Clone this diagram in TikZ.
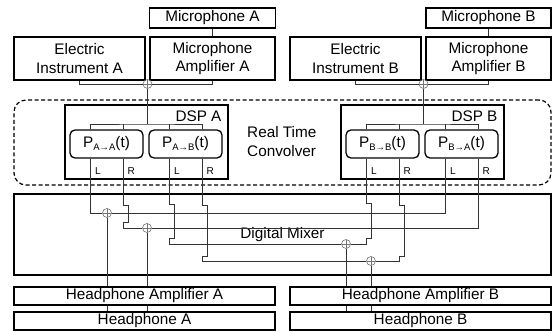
\documentclass[tikz,border=0pt]{standalone}
\usepackage{fontspec}
\setmainfont{Liberation Sans}
\usetikzlibrary{calc}
\newcommand\fsA{\fontsize{15.3}{18.5}\selectfont}
\newcommand\fsS{\fontsize{10}{12}\selectfont}
\newcommand\sbs[1]{\raisebox{-3pt}{\fontsize{9.5}{10}\selectfont #1}}
\begin{document}
\begin{tikzpicture}[x=1pt,y=-1pt,
  box/.style={draw, line width=1.3pt, align=center, inner sep=0pt, font=\fsA},
  pbox/.style={box, rounded corners=5pt},
  wire/.style={line width=0.65pt, draw=black!80},
  lbl/.style={inner sep=0pt, font=\fsS},
  sum/.style={circle, draw=black!55, line width=0.6pt, minimum size=9pt, inner sep=0pt,
    path picture={\draw[black!55, line width=0.6pt]
      (path picture bounding box.north) -- (path picture bounding box.south)
      (path picture bounding box.west) -- (path picture bounding box.east);}}]
\useasboundingbox (0,0) rectangle (554,331);

% top boxes
\node[box, minimum width=126pt, minimum height=20pt] (micA) at (212.5,18) {Microphone A};
\node[box, minimum width=131pt, minimum height=43pt] (eiA) at (79.5,58.5) {Electric\\Instrument A};
\node[box, minimum width=125pt, minimum height=43pt] (ampA) at (212.5,58.5) {Microphone\\Amplifier A};
\node[box, minimum width=125pt, minimum height=20pt] (micB) at (488.5,18) {Microphone B};
\node[box, minimum width=131pt, minimum height=43pt] (eiB) at (355.5,58.5) {Electric\\Instrument B};
\node[box, minimum width=125pt, minimum height=43pt] (ampB) at (488.5,58.5) {Microphone\\Amplifier B};

% convolver
\node[draw, line width=1.2pt, dashed, dash pattern=on 4pt off 2.5pt, rounded corners=12pt,
      minimum width=537pt, minimum height=85pt, inner sep=0pt] (rtc) at (282.5,142.5) {};
\node[inner sep=0pt, font=\fsA, align=left, anchor=west] (rtclbl) at (247,141.5) {Real Time\\Convolver};

\node[box, minimum width=163pt, minimum height=74pt] (dspA) at (146.5,142) {};
\node[box, minimum width=163pt, minimum height=74pt] (dspB) at (422.5,142) {};
\node[inner sep=0pt, font=\fsA, anchor=north east] (dspAl) at ([xshift=-7pt,yshift=-6pt]dspA.north east) {DSP A};
\node[inner sep=0pt, font=\fsA, anchor=north east] (dspBl) at ([xshift=-7pt,yshift=-6pt]dspB.north east) {DSP B};

\node[pbox, minimum width=73pt, minimum height=28pt] (pAA) at (106.5,144) {P\sbs{A→A}(t)};
\node[pbox, minimum width=73pt, minimum height=28pt] (pAB) at (185.5,144) {P\sbs{A→B}(t)};
\node[pbox, minimum width=73pt, minimum height=28pt] (pBB) at (382.5,144) {P\sbs{B→B}(t)};
\node[pbox, minimum width=73pt, minimum height=28pt] (pBA) at (461.5,144) {P\sbs{B→A}(t)};

\foreach \p in {pAA,pAB,pBB,pBA}{
  \node[lbl, anchor=west] (\p L) at ([xshift=-11.5pt,yshift=-12pt]\p.south) {L};
  \node[lbl, anchor=west] (\p R) at ([xshift=21pt,yshift=-12pt]\p.south) {R};
}

% sums at top
\node[sum] (sA) at (147.5,84) {};
\node[sum] (sB) at (423.5,84) {};
\coordinate (dA) at (147.5,124);
\coordinate (dB) at (423.5,124);

\draw[wire] (micA) -- (ampA);
\draw[wire] (micB) -- (ampB);
\draw[wire] (eiA.south) |- (sA);
\draw[wire] (ampA.south) |- (sA);
\draw[wire] (eiB.south) |- (sB);
\draw[wire] (ampB.south) |- (sB);
\draw[wire] (sA) -- (dA);
\draw[wire] (sB) -- (dB);
\draw[wire] ([xshift=-16.5pt]pAA.north) |- (dA) -| ([xshift=16.5pt]pAB.north);
\draw[wire] ([xshift=16.5pt]pAA.north) -- ([xshift=16.5pt]pAA.north |- dA);
\draw[wire] ([xshift=-16.5pt]pAB.north) -- ([xshift=-16.5pt]pAB.north |- dA);
\draw[wire] ([xshift=-16.5pt]pBB.north) |- (dB) -| ([xshift=16.5pt]pBA.north);
\draw[wire] ([xshift=16.5pt]pBB.north) -- ([xshift=16.5pt]pBB.north |- dB);
\draw[wire] ([xshift=-16.5pt]pBA.north) -- ([xshift=-16.5pt]pBA.north |- dB);

% mixer
\node[box, minimum width=537pt, minimum height=81pt] (mix) at (282.5,234.5) {};
\node[inner sep=0pt, font=\fsA] (mixlbl) at (282.5,235) {Digital Mixer};

\node[sum] (sAL) at (107,213) {};
\node[sum] (sAR) at (147,228) {};
\node[sum] (sBL) at (346,244) {};
\node[sum] (sBR) at (371,261) {};

\draw[wire] ([xshift=-16.5pt]pAA.south) |- (sAL);
\draw[wire] ([xshift=16.5pt]pAA.south) -- ++(0,47) -- ++(5,0) -- ++(0,17) -- ++(-5,0) |- (sAR);
\draw[wire] ([xshift=-16.5pt]pAB.south) -- ++(0,46) -- ++(5,0) -- ++(0,34) -- ++(-5,0) |- (sBL);
\draw[wire] ([xshift=16.5pt]pAB.south) -- ++(0,47) -- ++(5,0) -- ++(0,51) -- ++(-5,0) |- (sBR);
\draw[wire] ([xshift=-16.5pt]pBB.south) -- ++(0,45) -- ++(5,0) -- ++(0,35) -- ++(-5,0) |- (sBL);
\draw[wire] ([xshift=16.5pt]pBB.south) -- ++(0,47) -- ++(5,0) -- ++(0,51) -- ++(-5,0) |- (sBR);
\draw[wire] (sAL) -| ([xshift=-16.5pt]pBA.south);
\draw[wire] (sAR) -| ([xshift=16.5pt]pBA.south);

% headphones
\node[box, minimum width=261pt, minimum height=18pt] (hpampA) at (144.5,296) {Headphone Amplifier A};
\node[box, minimum width=261pt, minimum height=18pt] (hpampB) at (420.5,296) {Headphone Amplifier B};
\node[box, minimum width=261pt, minimum height=18pt] (hpA) at (144.5,321) {Headphone A};
\node[box, minimum width=261pt, minimum height=18pt] (hpB) at (420.5,321) {Headphone B};

\foreach \s/\a/\h in {sAL/hpampA/hpA, sAR/hpampA/hpA, sBL/hpampB/hpB, sBR/hpampB/hpB}{
  \draw[wire] (\s) -- (\s |- \a.north);
  \draw[wire] (\s |- \a.south) -- (\s |- \h.north);
}
\end{tikzpicture}
\end{document}
